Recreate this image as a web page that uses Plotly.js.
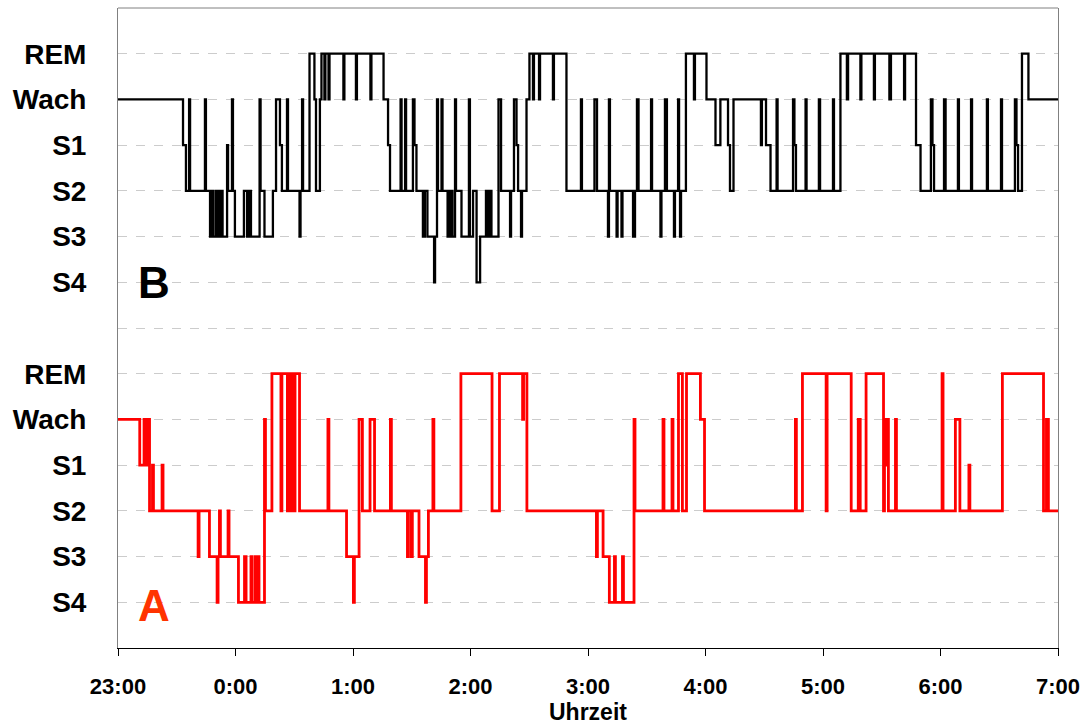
<!DOCTYPE html>
<html>
<head>
<meta charset="utf-8">
<script src="https://cdn.plot.ly/plotly-3.0.1.min.js"></script>
<style>html,body{margin:0;padding:0;background:#fff;}#chart{width:1085px;height:726px;}</style>
</head>
<body>
<div id="chart"></div>
<script>
// Time in minutes after 23:00, stage that begins at that time
const timeLabels = ["23:00","0:00","1:00","2:00","3:00","4:00","5:00","6:00","7:00"];
const stageNames = ["S4","S3","S2","S1","Wach","REM"];

const timesB = [0,33.2,34.7,36.3,36.8,44.4,44.9,47.0,48.0,48.5,49.8,50.3,51.3,51.8,52.8,53.4,54.6,55.7,56.2,58.2,58.7,59.7,64.3,65.9,66.9,67.9,72.3,72.8,74.8,79.1,80.7,82.7,83.7,86.3,86.8,92.7,93.2,94.0,94.5,97.8,100.3,101.1,103.1,103.9,105.4,105.9,107.5,108.0,115.1,115.6,121.5,122.0,128.9,129.4,135.6,137.9,138.9,144.3,144.8,146.6,147.1,150.6,151.4,152.4,155.7,156.7,158.0,161.4,161.9,162.9,163.4,165.2,165.7,168.3,169.0,169.5,170.3,170.8,172.1,172.6,175.4,179.2,179.7,181.3,183.1,184.9,187.9,188.9,190.0,190.7,194.3,195.6,200.2,200.7,202.2,203.5,204.3,205.8,206.3,208.6,210.1,211.9,212.4,215.0,215.5,222.1,222.6,229.0,236.4,236.9,243.3,244.6,250.2,250.7,251.2,254.6,255.1,257.1,257.6,263.0,264.0,265.0,265.8,272.2,272.7,277.0,277.5,279.3,280.3,283.9,284.4,286.0,286.5,287.0,287.5,290.0,294.1,294.6,300.5,305.1,307.6,311.5,312.5,314.3,328.3,328.8,330.9,333.2,336.3,336.8,344.7,345.4,346.2,351.1,351.6,357.9,358.5,365.1,365.6,368.9,372.2,372.8,379.1,379.6,386.0,386.5,393.9,394.7,401.4,401.9,407.5,409.8,415.1,415.9,416.7,421.8,422.6,428.9,429.4,435.6,436.1,443.7,444.2,450.9,451.4,458.0,458.8,459.6,461.6,464.9,480];
const stagesB = ["Wach","S1","S2","Wach","S2","Wach","S2","S3","S2","S3","S2","S3","S2","S3","S2","S3","S3","S1","S2","Wach","S2","S3","S2","S3","S2","S3","Wach","S2","S3","S2","Wach","S1","S2","Wach","S2","S3","S2","Wach","S2","REM","Wach","S2","Wach","REM","Wach","REM","Wach","REM","Wach","REM","Wach","REM","Wach","REM","Wach","S1","S2","Wach","S2","Wach","S2","Wach","S1","S2","S3","S2","S3","S4","S3","Wach","S2","Wach","S2","S3","S2","S3","S2","S3","Wach","S2","S3","Wach","S3","S2","S4","S3","S2","S3","S2","S3","Wach","S2","S3","S2","Wach","S1","S2","S3","S2","Wach","REM","Wach","REM","Wach","REM","Wach","REM","S2","Wach","S2","Wach","S2","S3","Wach","S2","S3","S2","S3","S2","S3","S2","Wach","S2","Wach","S2","S3","S2","Wach","S2","S3","S2","Wach","S2","S3","S2","REM","Wach","REM","Wach","S1","Wach","S1","S2","Wach","S1","Wach","S1","S2","Wach","S2","Wach","S1","S2","Wach","S2","Wach","S2","Wach","S2","REM","Wach","REM","Wach","REM","Wach","REM","Wach","REM","Wach","REM","S1","S2","Wach","S1","S2","Wach","S2","Wach","S2","Wach","S2","Wach","S2","Wach","S2","Wach","S1","S2","REM","Wach","Wach"];

const timesA = [0,11.1,13.3,14.3,14.8,16.1,17.6,18.1,22.5,23.0,40.9,41.4,46.7,50.6,51.1,51.8,52.3,56.2,56.7,61.5,64.6,65.4,67.9,68.4,70.0,70.5,71.5,72.0,74.8,75.3,78.6,83.2,83.7,86.5,87.0,88.3,88.9,89.9,90.4,92.7,107.2,107.7,116.7,120.2,120.7,123.1,124.8,128.7,131.0,139.1,139.6,147.8,148.3,149.8,150.3,153.7,157.0,157.5,158.5,160.8,161.3,175.1,191.0,194.8,206.6,207.1,208.8,244.3,244.8,247.7,250.9,253.5,254.0,257.6,258.1,263.5,264.0,278.3,278.8,282.9,283.4,286.2,288.2,290.3,297.4,299.5,345.9,346.4,349.5,361.6,362.1,374.4,378.0,379.0,382.0,390.9,391.4,392.2,392.7,393.4,397.0,397.5,420.8,421.3,427.6,429.9,434.5,435.0,451.6,472.6,474.1,475.1,480];
const stagesA = ["Wach","S1","Wach","S1","Wach","S2","S1","S2","S1","S2","S3","S2","S3","S4","S3","S2","S3","S2","S3","S4","S3","S4","S3","S4","S3","S4","S3","S4","Wach","S2","REM","S2","REM","S2","REM","S2","REM","S2","REM","S2","Wach","S2","S3","S4","S3","Wach","S2","Wach","S2","Wach","S2","S3","S2","S3","S2","S3","S4","S3","S2","Wach","S2","REM","S2","REM","Wach","REM","S2","S3","S2","S3","S4","S3","S4","S3","S4","Wach","S2","Wach","S2","Wach","S2","REM","S2","REM","Wach","S2","Wach","S2","REM","S2","REM","S2","Wach","S2","REM","S2","Wach","S1","Wach","S2","Wach","S2","REM","S2","Wach","S2","S1","S2","REM","S2","Wach","S2","S2"];

const offsetA = 1, offsetB = 8;
function toY(stages, off){ return stages.map(s => stageNames.indexOf(s) + off); }

const tickVals = [], tickText = [];
stageNames.forEach((s,i)=>{ tickVals.push(i+offsetA); tickText.push(s); });
tickVals.push(7); tickText.push("");
stageNames.forEach((s,i)=>{ tickVals.push(i+offsetB); tickText.push(s); });

const font = {family: "Liberation Sans, Arial, sans-serif", color: "#000", weight: "bold"};

const traces = [
  {x: timesB, y: toY(stagesB, offsetB), mode: "lines", line: {color: "#000000", width: 2.3, shape: "hv"}, hoverinfo: "skip"},
  {x: timesA, y: toY(stagesA, offsetA), mode: "lines", line: {color: "#ff0000", width: 2.8, shape: "hv"}, hoverinfo: "skip"}
];

const layout = {
  width: 1085, height: 726,
  margin: {l: 118, r: 27, t: 8, b: 78},
  paper_bgcolor: "#fff", plot_bgcolor: "#fff",
  showlegend: false,
  xaxis: {
    range: [0, 480], tickvals: [0,60,120,180,240,300,360,420,480], ticktext: timeLabels,
    ticks: "outside", ticklen: 7, tickcolor: "#000", tickwidth: 1,
    showline: true, linecolor: "#000", linewidth: 1, showgrid: false, zeroline: false,
    tickfont: Object.assign({size: 22}, font), ticklabelstandoff: 12
  },
  yaxis: {
    range: [0, 14], tickvals: tickVals, ticktext: tickText,
    ticks: "", showline: true, linecolor: "#808080", linewidth: 1, mirror: true,
    showgrid: true, gridcolor: "#cccccc", griddash: "dash", gridwidth: 1, zeroline: false,
    tickfont: Object.assign({size: 28}, font), ticklabelstandoff: 25
  },
  shapes: [
    {type: "line", xref: "paper", yref: "paper", x0: 0, x1: 1, y0: 1, y1: 1, line: {color: "#808080", width: 1}}
  ],
  annotations: [
    {text: "B", xref: "x", yref: "y", x: 9.4, y: offsetB, xanchor: "left", yanchor: "middle", showarrow: false,
     font: {family: "Liberation Sans, Arial, sans-serif", size: 44, color: "#000", weight: "bold"}},
    {text: "A", xref: "x", yref: "y", x: 9.4, y: offsetA - 0.07, xanchor: "left", yanchor: "middle", showarrow: false,
     font: {family: "Liberation Sans, Arial, sans-serif", size: 44, color: "#ff3300", weight: "bold"}},
    {text: "Uhrzeit", xref: "paper", yref: "paper", x: 0.5, y: -0.1, xanchor: "center", yanchor: "middle", showarrow: false,
     font: Object.assign({size: 23}, font)}
  ]
};

Plotly.newPlot("chart", traces, layout, {staticPlot: true, displayModeBar: false});
</script>
</body>
</html>
